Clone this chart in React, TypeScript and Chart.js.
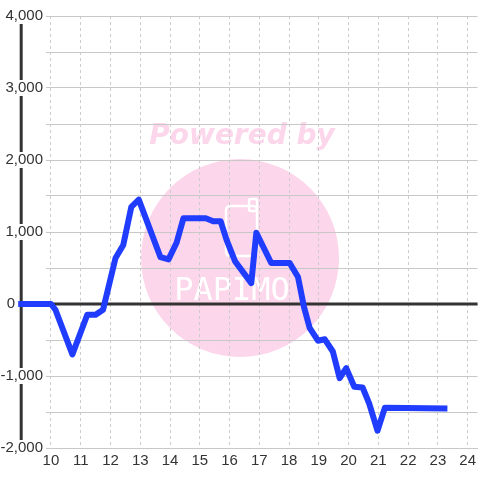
import React, { useEffect, useRef } from 'react';
import { Chart, registerables } from 'chart.js';

Chart.register(...registerables);

// ---- data ----
const hours = [8.9, 10.0, 10.15, 10.72, 11.22, 11.5, 11.75, 12.17, 12.43, 12.7, 12.95, 13.68, 13.95, 14.22, 14.45, 15.2, 15.45, 15.7, 15.9, 16.19, 16.73, 16.9, 17.4, 18.02, 18.3, 18.5, 18.69, 18.97, 19.2, 19.47, 19.7, 19.92, 20.19, 20.47, 20.69, 20.97, 21.22, 23.32];
const values = [0, 0, -80, -700, -150, -150, -80, 640, 820, 1350, 1450, 650, 620, 850, 1190, 1190, 1150, 1150, 890, 590, 290, 990, 570, 570, 375, -40, -330, -510, -490, -660, -1030, -890, -1150, -1160, -1380, -1760, -1440, -1450];

const xTickValues = [10, 11, 12, 13, 14, 15, 16, 17, 18, 19, 20, 21, 22, 23, 24];
const xTickLabels = ['10', '11', '12', '13', '14', '15', '16', '17', '18', '19', '20', '21', '22', '23', '24'];
const yMin = -2000;
const yMax = 4000;
const yGridStep = 500;
const yLabelStep = 1000;
const xMin = 9.8333;
const xMax = 24.3333;
const axisHour = 9;

const FONT = "'Liberation Sans', Arial, sans-serif";

const watermark = {
  id: 'watermark',
  beforeDraw(chart: any) {
    const ctx = chart.ctx as CanvasRenderingContext2D;
    ctx.save();
    ctx.fillStyle = '#fcd6ea';
    ctx.beginPath();
    ctx.arc(240, 258, 99, 0, Math.PI * 2);
    ctx.fill();
    ctx.font = "italic bold 28px 'DejaVu Sans'";
    ctx.textAlign = 'center';
    ctx.textBaseline = 'alphabetic';
    ctx.fillText('Powered by', 242, 144);
    // logo icon
    ctx.strokeStyle = '#ffffff';
    ctx.lineWidth = 2.5;
    ctx.beginPath();
    (ctx as any).roundRect(226, 206, 31, 50, 4);
    ctx.stroke();
    ctx.beginPath();
    (ctx as any).roundRect(249, 199, 8, 12, 2);
    ctx.stroke();
    ctx.fillStyle = '#ffffff';
    ctx.font = "32px 'DejaVu Sans Mono'";
    ctx.fillText('PAPIMO', 232, 300);
    ctx.restore();
  },
};

const isXTick = (v: number) => xTickValues.indexOf(Math.round(v * 1000) / 1000) >= 0;

export default function App() {
  const ref = useRef<HTMLCanvasElement | null>(null);

  useEffect(() => {
    if (!ref.current) return;
    const chart = new Chart(ref.current, {
      type: 'line',
      data: {
        datasets: [
          {
            data: hours.map((h, i) => ({ x: h, y: values[i] })),
            borderColor: '#1f3cff',
            borderWidth: 6,
            pointRadius: 0,
            tension: 0,
            clip: false as any,
            borderJoinStyle: 'round',
            borderCapStyle: 'butt',
          },
          {
            data: [{ x: axisHour, y: 0 }, { x: xMax, y: 0 }],
            borderColor: '#333333',
            borderWidth: 3,
            pointRadius: 0,
            clip: false as any,
          },
          {
            data: [{ x: axisHour, y: yMin }, { x: axisHour, y: yMax }],
            borderColor: '#333333',
            borderWidth: 3,
            pointRadius: 0,
            clip: false as any,
          },
        ],
      },
      options: {
        animation: false,
        responsive: true,
        maintainAspectRatio: false,
        layout: { padding: { top: 16, bottom: 10, left: 0, right: 0 }, autoPadding: false } as any,
        plugins: { legend: { display: false }, tooltip: { enabled: false } },
        scales: {
          x: {
            type: 'linear',
            min: xMin,
            max: xMax,
            afterFit: (s: any) => {
              s.height = 22;
            },
            ticks: {
              stepSize: 1,
              includeBounds: false,
              padding: 4,
              color: '#333333',
              font: { size: 15, family: FONT },
              maxRotation: 0,
              autoSkip: false,
              callback: (v: any) => {
                const n = Math.round(Number(v) * 1000) / 1000;
                const i = xTickValues.indexOf(n);
                return i >= 0 ? xTickLabels[i] : '';
              },
            } as any,
            grid: {
              color: ((c: any) => (c.tick && isXTick(c.tick.value) ? '#cccccc' : 'rgba(0,0,0,0)')) as any,
              lineWidth: 1,
              drawTicks: false,
            },
            border: { display: true, color: '#c8c8c8', width: 1, dash: [3, 3] },
          },
          y: {
            type: 'linear',
            min: yMin,
            max: yMax,
            afterFit: (s: any) => {
              s.width = 46;
            },
            ticks: {
              stepSize: yGridStep,
              padding: 3,
              z: 1,
              color: '#333333',
              font: { size: 15, family: FONT },
              callback: (v: any) => {
                const n = Number(v);
                if (n % yLabelStep !== 0) return '';
                if (n === 0) return '0      \u2009';
                return n.toLocaleString('en-US');
              },
              showLabelBackdrop: ((c: any) => c.tick && c.tick.value !== 0 && c.tick.value % yLabelStep === 0) as any,
              backdropColor: '#ffffff',
              backdropPadding: { top: -1, bottom: -1, left: 1, right: 1 },
            } as any,
            grid: { color: '#c8c8c8', lineWidth: 1, drawTicks: false },
            border: { display: false },
          },
        },
      },
      plugins: [watermark],
    });
    return () => chart.destroy();
  }, []);

  return (
    <div style={{ position: 'absolute', left: 0, top: 0, width: 480, height: 480, background: '#ffffff' }}>
      <canvas ref={ref} />
    </div>
  );
}
